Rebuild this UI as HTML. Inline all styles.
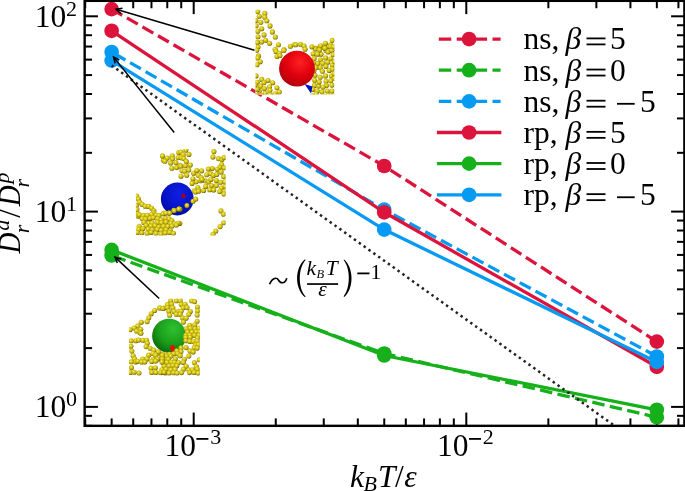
<!DOCTYPE html>
<html><head><meta charset="utf-8"><style>
html,body{margin:0;padding:0;background:#fff;}
svg{display:block;will-change:transform;font-family:"Liberation Serif",serif;}
</style></head><body>
<svg width="685" height="491" viewBox="0 0 685 491">
<defs><radialGradient id="bd" cx="0.42" cy="0.38" r="0.62"><stop offset="0" stop-color="#f6f07c"/><stop offset="0.3" stop-color="#e0d424"/><stop offset="0.72" stop-color="#bcaa08"/><stop offset="1" stop-color="#6a5e00"/></radialGradient><radialGradient id="sr" cx="0.58" cy="0.32" r="0.78"><stop offset="0" stop-color="#ff2020"/><stop offset="0.5" stop-color="#e0000e"/><stop offset="0.85" stop-color="#b8000a"/><stop offset="1" stop-color="#800008"/></radialGradient><radialGradient id="sb" cx="0.55" cy="0.35" r="0.75"><stop offset="0" stop-color="#1020e6"/><stop offset="0.6" stop-color="#0612c4"/><stop offset="1" stop-color="#000890"/></radialGradient><radialGradient id="sg" cx="0.62" cy="0.3" r="0.8"><stop offset="0" stop-color="#30c030"/><stop offset="0.55" stop-color="#1a9e1a"/><stop offset="1" stop-color="#0a5e0a"/></radialGradient><clipPath id="c1"><rect x="255.4" y="9.7" width="79" height="84.8"/></clipPath><clipPath id="c2"><rect x="135.9" y="149" width="89.7" height="86.4"/></clipPath><clipPath id="c3"><rect x="128.9" y="298.5" width="70.9" height="77.2"/></clipPath></defs>
<rect x="0" y="0" width="685" height="491" fill="#fff"/>
<line x1="85.22" y1="425.83" x2="85.22" y2="418.43" stroke="#000" stroke-width="2.0"/>
<line x1="85.22" y1="0.84" x2="85.22" y2="8.24" stroke="#000" stroke-width="2.0"/>
<line x1="111.64" y1="425.83" x2="111.64" y2="418.43" stroke="#000" stroke-width="2.0"/>
<line x1="111.64" y1="0.84" x2="111.64" y2="8.24" stroke="#000" stroke-width="2.0"/>
<line x1="133.22" y1="425.83" x2="133.22" y2="418.43" stroke="#000" stroke-width="2.0"/>
<line x1="133.22" y1="0.84" x2="133.22" y2="8.24" stroke="#000" stroke-width="2.0"/>
<line x1="151.47" y1="425.83" x2="151.47" y2="418.43" stroke="#000" stroke-width="2.0"/>
<line x1="151.47" y1="0.84" x2="151.47" y2="8.24" stroke="#000" stroke-width="2.0"/>
<line x1="167.28" y1="425.83" x2="167.28" y2="418.43" stroke="#000" stroke-width="2.0"/>
<line x1="167.28" y1="0.84" x2="167.28" y2="8.24" stroke="#000" stroke-width="2.0"/>
<line x1="181.23" y1="425.83" x2="181.23" y2="418.43" stroke="#000" stroke-width="2.0"/>
<line x1="181.23" y1="0.84" x2="181.23" y2="8.24" stroke="#000" stroke-width="2.0"/>
<line x1="193.70" y1="425.83" x2="193.70" y2="412.53" stroke="#000" stroke-width="2.0"/>
<line x1="193.70" y1="0.84" x2="193.70" y2="14.14" stroke="#000" stroke-width="2.0"/>
<line x1="275.76" y1="425.83" x2="275.76" y2="418.43" stroke="#000" stroke-width="2.0"/>
<line x1="275.76" y1="0.84" x2="275.76" y2="8.24" stroke="#000" stroke-width="2.0"/>
<line x1="323.76" y1="425.83" x2="323.76" y2="418.43" stroke="#000" stroke-width="2.0"/>
<line x1="323.76" y1="0.84" x2="323.76" y2="8.24" stroke="#000" stroke-width="2.0"/>
<line x1="357.82" y1="425.83" x2="357.82" y2="418.43" stroke="#000" stroke-width="2.0"/>
<line x1="357.82" y1="0.84" x2="357.82" y2="8.24" stroke="#000" stroke-width="2.0"/>
<line x1="384.24" y1="425.83" x2="384.24" y2="418.43" stroke="#000" stroke-width="2.0"/>
<line x1="384.24" y1="0.84" x2="384.24" y2="8.24" stroke="#000" stroke-width="2.0"/>
<line x1="405.82" y1="425.83" x2="405.82" y2="418.43" stroke="#000" stroke-width="2.0"/>
<line x1="405.82" y1="0.84" x2="405.82" y2="8.24" stroke="#000" stroke-width="2.0"/>
<line x1="424.07" y1="425.83" x2="424.07" y2="418.43" stroke="#000" stroke-width="2.0"/>
<line x1="424.07" y1="0.84" x2="424.07" y2="8.24" stroke="#000" stroke-width="2.0"/>
<line x1="439.88" y1="425.83" x2="439.88" y2="418.43" stroke="#000" stroke-width="2.0"/>
<line x1="439.88" y1="0.84" x2="439.88" y2="8.24" stroke="#000" stroke-width="2.0"/>
<line x1="453.83" y1="425.83" x2="453.83" y2="418.43" stroke="#000" stroke-width="2.0"/>
<line x1="453.83" y1="0.84" x2="453.83" y2="8.24" stroke="#000" stroke-width="2.0"/>
<line x1="466.30" y1="425.83" x2="466.30" y2="412.53" stroke="#000" stroke-width="2.0"/>
<line x1="466.30" y1="0.84" x2="466.30" y2="14.14" stroke="#000" stroke-width="2.0"/>
<line x1="548.36" y1="425.83" x2="548.36" y2="418.43" stroke="#000" stroke-width="2.0"/>
<line x1="548.36" y1="0.84" x2="548.36" y2="8.24" stroke="#000" stroke-width="2.0"/>
<line x1="596.36" y1="425.83" x2="596.36" y2="418.43" stroke="#000" stroke-width="2.0"/>
<line x1="596.36" y1="0.84" x2="596.36" y2="8.24" stroke="#000" stroke-width="2.0"/>
<line x1="630.42" y1="425.83" x2="630.42" y2="418.43" stroke="#000" stroke-width="2.0"/>
<line x1="630.42" y1="0.84" x2="630.42" y2="8.24" stroke="#000" stroke-width="2.0"/>
<line x1="656.84" y1="425.83" x2="656.84" y2="418.43" stroke="#000" stroke-width="2.0"/>
<line x1="656.84" y1="0.84" x2="656.84" y2="8.24" stroke="#000" stroke-width="2.0"/>
<line x1="678.42" y1="425.83" x2="678.42" y2="418.43" stroke="#000" stroke-width="2.0"/>
<line x1="678.42" y1="0.84" x2="678.42" y2="8.24" stroke="#000" stroke-width="2.0"/>
<line x1="84.66" y1="425.83" x2="92.06" y2="425.83" stroke="#000" stroke-width="2.0"/>
<line x1="684.38" y1="425.83" x2="676.98" y2="425.83" stroke="#000" stroke-width="2.0"/>
<line x1="84.66" y1="415.84" x2="92.06" y2="415.84" stroke="#000" stroke-width="2.0"/>
<line x1="684.38" y1="415.84" x2="676.98" y2="415.84" stroke="#000" stroke-width="2.0"/>
<line x1="84.66" y1="406.90" x2="97.96" y2="406.90" stroke="#000" stroke-width="2.0"/>
<line x1="684.38" y1="406.90" x2="671.08" y2="406.90" stroke="#000" stroke-width="2.0"/>
<line x1="84.66" y1="348.11" x2="92.06" y2="348.11" stroke="#000" stroke-width="2.0"/>
<line x1="684.38" y1="348.11" x2="676.98" y2="348.11" stroke="#000" stroke-width="2.0"/>
<line x1="84.66" y1="313.72" x2="92.06" y2="313.72" stroke="#000" stroke-width="2.0"/>
<line x1="684.38" y1="313.72" x2="676.98" y2="313.72" stroke="#000" stroke-width="2.0"/>
<line x1="84.66" y1="289.32" x2="92.06" y2="289.32" stroke="#000" stroke-width="2.0"/>
<line x1="684.38" y1="289.32" x2="676.98" y2="289.32" stroke="#000" stroke-width="2.0"/>
<line x1="84.66" y1="270.39" x2="92.06" y2="270.39" stroke="#000" stroke-width="2.0"/>
<line x1="684.38" y1="270.39" x2="676.98" y2="270.39" stroke="#000" stroke-width="2.0"/>
<line x1="84.66" y1="254.93" x2="92.06" y2="254.93" stroke="#000" stroke-width="2.0"/>
<line x1="684.38" y1="254.93" x2="676.98" y2="254.93" stroke="#000" stroke-width="2.0"/>
<line x1="84.66" y1="241.85" x2="92.06" y2="241.85" stroke="#000" stroke-width="2.0"/>
<line x1="684.38" y1="241.85" x2="676.98" y2="241.85" stroke="#000" stroke-width="2.0"/>
<line x1="84.66" y1="230.53" x2="92.06" y2="230.53" stroke="#000" stroke-width="2.0"/>
<line x1="684.38" y1="230.53" x2="676.98" y2="230.53" stroke="#000" stroke-width="2.0"/>
<line x1="84.66" y1="220.54" x2="92.06" y2="220.54" stroke="#000" stroke-width="2.0"/>
<line x1="684.38" y1="220.54" x2="676.98" y2="220.54" stroke="#000" stroke-width="2.0"/>
<line x1="84.66" y1="211.60" x2="97.96" y2="211.60" stroke="#000" stroke-width="2.0"/>
<line x1="684.38" y1="211.60" x2="671.08" y2="211.60" stroke="#000" stroke-width="2.0"/>
<line x1="84.66" y1="152.81" x2="92.06" y2="152.81" stroke="#000" stroke-width="2.0"/>
<line x1="684.38" y1="152.81" x2="676.98" y2="152.81" stroke="#000" stroke-width="2.0"/>
<line x1="84.66" y1="118.42" x2="92.06" y2="118.42" stroke="#000" stroke-width="2.0"/>
<line x1="684.38" y1="118.42" x2="676.98" y2="118.42" stroke="#000" stroke-width="2.0"/>
<line x1="84.66" y1="94.02" x2="92.06" y2="94.02" stroke="#000" stroke-width="2.0"/>
<line x1="684.38" y1="94.02" x2="676.98" y2="94.02" stroke="#000" stroke-width="2.0"/>
<line x1="84.66" y1="75.09" x2="92.06" y2="75.09" stroke="#000" stroke-width="2.0"/>
<line x1="684.38" y1="75.09" x2="676.98" y2="75.09" stroke="#000" stroke-width="2.0"/>
<line x1="84.66" y1="59.63" x2="92.06" y2="59.63" stroke="#000" stroke-width="2.0"/>
<line x1="684.38" y1="59.63" x2="676.98" y2="59.63" stroke="#000" stroke-width="2.0"/>
<line x1="84.66" y1="46.55" x2="92.06" y2="46.55" stroke="#000" stroke-width="2.0"/>
<line x1="684.38" y1="46.55" x2="676.98" y2="46.55" stroke="#000" stroke-width="2.0"/>
<line x1="84.66" y1="35.23" x2="92.06" y2="35.23" stroke="#000" stroke-width="2.0"/>
<line x1="684.38" y1="35.23" x2="676.98" y2="35.23" stroke="#000" stroke-width="2.0"/>
<line x1="84.66" y1="25.24" x2="92.06" y2="25.24" stroke="#000" stroke-width="2.0"/>
<line x1="684.38" y1="25.24" x2="676.98" y2="25.24" stroke="#000" stroke-width="2.0"/>
<line x1="84.66" y1="16.30" x2="97.96" y2="16.30" stroke="#000" stroke-width="2.0"/>
<line x1="684.38" y1="16.30" x2="671.08" y2="16.30" stroke="#000" stroke-width="2.0"/>
<polyline points="656.80,341.60 384.20,166.00 111.64,9.10" fill="none" stroke="#dc143c" stroke-width="3.3" stroke-dasharray="12.5 5.4"/>
<circle cx="111.64" cy="9.10" r="7.35" fill="#dc143c"/>
<circle cx="384.20" cy="166.00" r="7.35" fill="#dc143c"/>
<circle cx="656.80" cy="341.60" r="7.35" fill="#dc143c"/>
<polyline points="656.80,417.30 384.20,353.50 111.64,255.50" fill="none" stroke="#15b01a" stroke-width="3.3" stroke-dasharray="12.5 5.4"/>
<circle cx="111.64" cy="255.50" r="7.35" fill="#15b01a"/>
<circle cx="384.20" cy="353.50" r="7.35" fill="#15b01a"/>
<circle cx="656.80" cy="417.30" r="7.35" fill="#15b01a"/>
<polyline points="656.80,356.50 384.20,209.60 111.64,52.00" fill="none" stroke="#069af3" stroke-width="3.3" stroke-dasharray="12.5 5.4"/>
<circle cx="111.64" cy="52.00" r="7.35" fill="#069af3"/>
<circle cx="384.20" cy="209.60" r="7.35" fill="#069af3"/>
<circle cx="656.80" cy="356.50" r="7.35" fill="#069af3"/>
<polyline points="656.80,366.80 384.20,212.30 111.64,30.80" fill="none" stroke="#dc143c" stroke-width="3.3"/>
<circle cx="111.64" cy="30.80" r="7.35" fill="#dc143c"/>
<circle cx="384.20" cy="212.30" r="7.35" fill="#dc143c"/>
<circle cx="656.80" cy="366.80" r="7.35" fill="#dc143c"/>
<polyline points="656.80,409.80 384.20,355.50 111.64,249.90" fill="none" stroke="#15b01a" stroke-width="3.3"/>
<circle cx="111.64" cy="249.90" r="7.35" fill="#15b01a"/>
<circle cx="384.20" cy="355.50" r="7.35" fill="#15b01a"/>
<circle cx="656.80" cy="409.80" r="7.35" fill="#15b01a"/>
<polyline points="656.80,361.90 384.20,229.60 111.64,60.60" fill="none" stroke="#069af3" stroke-width="3.3"/>
<circle cx="111.64" cy="60.60" r="7.35" fill="#069af3"/>
<circle cx="384.20" cy="229.60" r="7.35" fill="#069af3"/>
<circle cx="656.80" cy="361.90" r="7.35" fill="#069af3"/>
<line x1="111.70" y1="65.50" x2="614.64" y2="425.83" stroke="#222" stroke-width="2.5" stroke-dasharray="2.45 3.515" stroke-dashoffset="0.245"/>
<rect x="255.4" y="9.7" width="79" height="84.8" fill="#fff"/><g clip-path="url(#c1)"><circle cx="257.7" cy="11.6" r="2.55" fill="url(#bd)"/><circle cx="259.3" cy="16.2" r="2.55" fill="url(#bd)"/><circle cx="264.8" cy="13.4" r="2.55" fill="url(#bd)"/><circle cx="264.7" cy="17.3" r="2.55" fill="url(#bd)"/><circle cx="266.8" cy="20.7" r="2.55" fill="url(#bd)"/><circle cx="260.8" cy="22.3" r="2.55" fill="url(#bd)"/><circle cx="270.0" cy="25.9" r="2.55" fill="url(#bd)"/><circle cx="261.7" cy="28.7" r="2.55" fill="url(#bd)"/><circle cx="257.7" cy="31.2" r="2.55" fill="url(#bd)"/><circle cx="272.4" cy="31.9" r="2.55" fill="url(#bd)"/><circle cx="264.0" cy="34.9" r="2.55" fill="url(#bd)"/><circle cx="257.9" cy="36.7" r="2.55" fill="url(#bd)"/><circle cx="275.3" cy="37.0" r="2.55" fill="url(#bd)"/><circle cx="265.6" cy="40.2" r="2.55" fill="url(#bd)"/><circle cx="261.4" cy="42.0" r="2.55" fill="url(#bd)"/><circle cx="257.3" cy="42.4" r="2.55" fill="url(#bd)"/><circle cx="269.6" cy="43.2" r="2.55" fill="url(#bd)"/><circle cx="278.5" cy="44.7" r="2.55" fill="url(#bd)"/><circle cx="258.0" cy="47.0" r="2.55" fill="url(#bd)"/><circle cx="275.1" cy="49.3" r="2.55" fill="url(#bd)"/><circle cx="284.0" cy="49.5" r="2.55" fill="url(#bd)"/><circle cx="290.4" cy="46.3" r="2.55" fill="url(#bd)"/><circle cx="294.7" cy="44.6" r="2.55" fill="url(#bd)"/><circle cx="295.7" cy="44.8" r="2.55" fill="url(#bd)"/><circle cx="300.4" cy="44.2" r="2.55" fill="url(#bd)"/><circle cx="304.0" cy="46.0" r="2.55" fill="url(#bd)"/><circle cx="305.1" cy="49.2" r="2.55" fill="url(#bd)"/><circle cx="315.7" cy="48.4" r="2.55" fill="url(#bd)"/><circle cx="319.9" cy="46.5" r="2.55" fill="url(#bd)"/><circle cx="323.9" cy="47.5" r="2.55" fill="url(#bd)"/><circle cx="328.2" cy="46.2" r="2.55" fill="url(#bd)"/><circle cx="330.6" cy="44.8" r="2.55" fill="url(#bd)"/><circle cx="332.3" cy="40.3" r="2.55" fill="url(#bd)"/><circle cx="332.0" cy="50.5" r="2.55" fill="url(#bd)"/><circle cx="325.8" cy="50.3" r="2.55" fill="url(#bd)"/><circle cx="256.7" cy="50.2" r="2.55" fill="url(#bd)"/><circle cx="258.5" cy="55.9" r="2.55" fill="url(#bd)"/><circle cx="257.7" cy="57.9" r="2.55" fill="url(#bd)"/><circle cx="260.2" cy="61.7" r="2.55" fill="url(#bd)"/><circle cx="257.0" cy="64.8" r="2.55" fill="url(#bd)"/><circle cx="276.0" cy="51.4" r="2.55" fill="url(#bd)"/><circle cx="279.3" cy="53.3" r="2.55" fill="url(#bd)"/><circle cx="283.8" cy="50.5" r="2.55" fill="url(#bd)"/><circle cx="277.1" cy="56.5" r="2.55" fill="url(#bd)"/><circle cx="279.9" cy="55.5" r="2.55" fill="url(#bd)"/><circle cx="256.0" cy="75.9" r="2.55" fill="url(#bd)"/><circle cx="257.2" cy="82.3" r="2.55" fill="url(#bd)"/><circle cx="267.9" cy="80.5" r="2.55" fill="url(#bd)"/><circle cx="272.7" cy="82.7" r="2.55" fill="url(#bd)"/><circle cx="260.6" cy="86.1" r="2.55" fill="url(#bd)"/><circle cx="264.4" cy="88.5" r="2.55" fill="url(#bd)"/><circle cx="269.6" cy="86.7" r="2.55" fill="url(#bd)"/><circle cx="269.9" cy="90.3" r="2.55" fill="url(#bd)"/><circle cx="276.9" cy="87.7" r="2.55" fill="url(#bd)"/><circle cx="259.3" cy="91.0" r="2.55" fill="url(#bd)"/><circle cx="257.3" cy="89.4" r="2.55" fill="url(#bd)"/><circle cx="279.3" cy="92.1" r="2.55" fill="url(#bd)"/><circle cx="265.1" cy="93.2" r="2.55" fill="url(#bd)"/><circle cx="315.2" cy="48.9" r="2.55" fill="url(#bd)"/><circle cx="320.6" cy="45.7" r="2.55" fill="url(#bd)"/><circle cx="324.8" cy="48.2" r="2.55" fill="url(#bd)"/><circle cx="330.2" cy="46.5" r="2.55" fill="url(#bd)"/><circle cx="313.2" cy="53.7" r="2.55" fill="url(#bd)"/><circle cx="321.0" cy="54.2" r="2.55" fill="url(#bd)"/><circle cx="328.1" cy="51.9" r="2.55" fill="url(#bd)"/><circle cx="331.9" cy="50.3" r="2.55" fill="url(#bd)"/><circle cx="314.2" cy="58.6" r="2.55" fill="url(#bd)"/><circle cx="320.4" cy="59.7" r="2.55" fill="url(#bd)"/><circle cx="325.6" cy="57.9" r="2.55" fill="url(#bd)"/><circle cx="330.8" cy="58.7" r="2.55" fill="url(#bd)"/><circle cx="317.6" cy="63.6" r="2.55" fill="url(#bd)"/><circle cx="322.7" cy="63.2" r="2.55" fill="url(#bd)"/><circle cx="327.7" cy="62.2" r="2.55" fill="url(#bd)"/><circle cx="332.4" cy="64.9" r="2.55" fill="url(#bd)"/><circle cx="320.2" cy="67.7" r="2.55" fill="url(#bd)"/><circle cx="325.9" cy="66.4" r="2.55" fill="url(#bd)"/><circle cx="322.4" cy="71.3" r="2.55" fill="url(#bd)"/><circle cx="329.2" cy="70.4" r="2.55" fill="url(#bd)"/><circle cx="332.5" cy="69.1" r="2.55" fill="url(#bd)"/><circle cx="325.5" cy="75.9" r="2.55" fill="url(#bd)"/><circle cx="331.4" cy="75.7" r="2.55" fill="url(#bd)"/><circle cx="314.9" cy="75.3" r="2.55" fill="url(#bd)"/><circle cx="314.6" cy="80.2" r="2.55" fill="url(#bd)"/><circle cx="326.0" cy="81.3" r="2.55" fill="url(#bd)"/><circle cx="330.7" cy="80.8" r="2.55" fill="url(#bd)"/><circle cx="314.4" cy="85.4" r="2.55" fill="url(#bd)"/><circle cx="318.6" cy="86.1" r="2.55" fill="url(#bd)"/><circle cx="326.4" cy="85.6" r="2.55" fill="url(#bd)"/><circle cx="331.9" cy="85.1" r="2.55" fill="url(#bd)"/><circle cx="312.8" cy="89.4" r="2.55" fill="url(#bd)"/><circle cx="317.2" cy="91.0" r="2.55" fill="url(#bd)"/><circle cx="321.9" cy="91.8" r="2.55" fill="url(#bd)"/><circle cx="327.4" cy="91.0" r="2.55" fill="url(#bd)"/><circle cx="332.0" cy="91.1" r="2.55" fill="url(#bd)"/><circle cx="316.1" cy="94.2" r="2.55" fill="url(#bd)"/><circle cx="313.9" cy="70.7" r="2.55" fill="url(#bd)"/><circle cx="320.2" cy="77.3" r="2.55" fill="url(#bd)"/><circle cx="319.2" cy="82.0" r="2.55" fill="url(#bd)"/><circle cx="315.8" cy="67.8" r="2.55" fill="url(#bd)"/><circle cx="328.1" cy="95.3" r="2.55" fill="url(#bd)"/><circle cx="323.3" cy="95.7" r="2.55" fill="url(#bd)"/><circle cx="333.1" cy="54.6" r="2.55" fill="url(#bd)"/><circle cx="333.8" cy="95.9" r="2.55" fill="url(#bd)"/><circle cx="325.4" cy="43.3" r="2.55" fill="url(#bd)"/><circle cx="323.0" cy="87.0" r="2.55" fill="url(#bd)"/><circle cx="333.5" cy="46.8" r="2.55" fill="url(#bd)"/><circle cx="319.4" cy="49.9" r="2.55" fill="url(#bd)"/><circle cx="311.9" cy="46.7" r="2.55" fill="url(#bd)"/><circle cx="334.5" cy="78.3" r="2.55" fill="url(#bd)"/><circle cx="317.5" cy="54.2" r="2.55" fill="url(#bd)"/><circle cx="334.2" cy="73.7" r="2.55" fill="url(#bd)"/><circle cx="312.4" cy="95.8" r="2.55" fill="url(#bd)"/><circle cx="313.2" cy="62.8" r="2.55" fill="url(#bd)"/><circle cx="334.4" cy="61.6" r="2.55" fill="url(#bd)"/><circle cx="256.1" cy="25.8" r="2.55" fill="url(#bd)"/><circle cx="255.8" cy="20.6" r="2.55" fill="url(#bd)"/><circle cx="261.7" cy="79.4" r="2.55" fill="url(#bd)"/><circle cx="274.9" cy="93.7" r="2.55" fill="url(#bd)"/><circle cx="270.0" cy="94.7" r="2.55" fill="url(#bd)"/><circle cx="256.6" cy="95.6" r="2.55" fill="url(#bd)"/><circle cx="261.6" cy="95.4" r="2.55" fill="url(#bd)"/><circle cx="255.4" cy="84.8" r="2.55" fill="url(#bd)"/><circle cx="264.0" cy="82.6" r="2.55" fill="url(#bd)"/><path d="M304.5,84 L312.5,86.5 L311,93.5 Z" fill="#0010c8"/><circle cx="297" cy="68.6" r="17.9" fill="url(#sr)"/></g><rect x="135.9" y="149" width="89.7" height="86.4" fill="#fff"/><g clip-path="url(#c2)"><circle cx="177.3" cy="199" r="16.4" fill="url(#sb)"/><circle cx="183.4" cy="195.9" r="2.1" fill="#b00010"/><circle cx="163.4" cy="160.3" r="2.55" fill="url(#bd)"/><circle cx="167.2" cy="158.1" r="2.55" fill="url(#bd)"/><circle cx="172.2" cy="155.8" r="2.55" fill="url(#bd)"/><circle cx="178.7" cy="152.6" r="2.55" fill="url(#bd)"/><circle cx="172.5" cy="158.8" r="2.55" fill="url(#bd)"/><circle cx="178.1" cy="157.6" r="2.55" fill="url(#bd)"/><circle cx="171.8" cy="168.3" r="2.55" fill="url(#bd)"/><circle cx="176.6" cy="167.6" r="2.55" fill="url(#bd)"/><circle cx="180.1" cy="165.4" r="2.55" fill="url(#bd)"/><circle cx="164.9" cy="161.3" r="2.55" fill="url(#bd)"/><circle cx="180.9" cy="152.0" r="2.55" fill="url(#bd)"/><circle cx="183.2" cy="154.7" r="2.55" fill="url(#bd)"/><circle cx="181.3" cy="157.8" r="2.55" fill="url(#bd)"/><circle cx="183.8" cy="158.6" r="2.55" fill="url(#bd)"/><circle cx="186.3" cy="161.4" r="2.55" fill="url(#bd)"/><circle cx="185.3" cy="165.7" r="2.55" fill="url(#bd)"/><circle cx="180.5" cy="166.2" r="2.55" fill="url(#bd)"/><circle cx="181.9" cy="170.6" r="2.55" fill="url(#bd)"/><circle cx="184.5" cy="171.3" r="2.55" fill="url(#bd)"/><circle cx="188.7" cy="169.9" r="2.55" fill="url(#bd)"/><circle cx="186.7" cy="175.2" r="2.55" fill="url(#bd)"/><circle cx="193.6" cy="173.2" r="2.55" fill="url(#bd)"/><circle cx="198.4" cy="175.3" r="2.55" fill="url(#bd)"/><circle cx="201.1" cy="177.6" r="2.55" fill="url(#bd)"/><circle cx="206.6" cy="174.7" r="2.55" fill="url(#bd)"/><circle cx="210.6" cy="173.6" r="2.55" fill="url(#bd)"/><circle cx="213.4" cy="175.4" r="2.55" fill="url(#bd)"/><circle cx="216.7" cy="174.4" r="2.55" fill="url(#bd)"/><circle cx="196.1" cy="181.8" r="2.55" fill="url(#bd)"/><circle cx="200.8" cy="180.7" r="2.55" fill="url(#bd)"/><circle cx="205.0" cy="180.8" r="2.55" fill="url(#bd)"/><circle cx="208.7" cy="181.9" r="2.55" fill="url(#bd)"/><circle cx="202.0" cy="179.5" r="2.55" fill="url(#bd)"/><circle cx="210.9" cy="179.5" r="2.55" fill="url(#bd)"/><circle cx="216.3" cy="180.5" r="2.55" fill="url(#bd)"/><circle cx="220.6" cy="182.3" r="2.55" fill="url(#bd)"/><circle cx="216.4" cy="185.6" r="2.55" fill="url(#bd)"/><circle cx="221.3" cy="188.0" r="2.55" fill="url(#bd)"/><circle cx="224.2" cy="191.5" r="2.55" fill="url(#bd)"/><circle cx="197.8" cy="187.5" r="2.55" fill="url(#bd)"/><circle cx="194.2" cy="190.8" r="2.55" fill="url(#bd)"/><circle cx="198.7" cy="190.3" r="2.55" fill="url(#bd)"/><circle cx="213.9" cy="151.6" r="2.55" fill="url(#bd)"/><circle cx="212.9" cy="156.9" r="2.55" fill="url(#bd)"/><circle cx="218.4" cy="158.6" r="2.55" fill="url(#bd)"/><circle cx="221.9" cy="159.6" r="2.55" fill="url(#bd)"/><circle cx="223.9" cy="157.6" r="2.55" fill="url(#bd)"/><circle cx="221.6" cy="164.6" r="2.55" fill="url(#bd)"/><circle cx="219.6" cy="167.4" r="2.55" fill="url(#bd)"/><circle cx="217.3" cy="169.2" r="2.55" fill="url(#bd)"/><circle cx="224.2" cy="167.8" r="2.55" fill="url(#bd)"/><circle cx="187.0" cy="205.6" r="2.55" fill="url(#bd)"/><circle cx="180.0" cy="209.2" r="2.55" fill="url(#bd)"/><circle cx="193.1" cy="201.3" r="2.55" fill="url(#bd)"/><circle cx="195.7" cy="199.0" r="2.55" fill="url(#bd)"/><circle cx="195.5" cy="192.0" r="2.55" fill="url(#bd)"/><circle cx="198.5" cy="191.2" r="2.55" fill="url(#bd)"/><circle cx="164.0" cy="213.3" r="2.55" fill="url(#bd)"/><circle cx="168.9" cy="213.1" r="2.55" fill="url(#bd)"/><circle cx="173.9" cy="210.2" r="2.55" fill="url(#bd)"/><circle cx="179.1" cy="209.1" r="2.55" fill="url(#bd)"/><circle cx="179.8" cy="223.4" r="2.55" fill="url(#bd)"/><circle cx="220.9" cy="210.9" r="2.55" fill="url(#bd)"/><circle cx="223.6" cy="214.2" r="2.55" fill="url(#bd)"/><circle cx="223.7" cy="222.7" r="2.55" fill="url(#bd)"/><circle cx="220.1" cy="226.6" r="2.55" fill="url(#bd)"/><circle cx="215.8" cy="231.0" r="2.55" fill="url(#bd)"/><circle cx="213.0" cy="234.3" r="2.55" fill="url(#bd)"/><circle cx="219.7" cy="191.5" r="2.55" fill="url(#bd)"/><circle cx="224.0" cy="194.0" r="2.55" fill="url(#bd)"/><circle cx="136.7" cy="196.0" r="2.55" fill="url(#bd)"/><circle cx="138.4" cy="198.9" r="2.55" fill="url(#bd)"/><circle cx="139.5" cy="202.3" r="2.55" fill="url(#bd)"/><circle cx="142.1" cy="204.3" r="2.55" fill="url(#bd)"/><circle cx="145.2" cy="206.2" r="2.55" fill="url(#bd)"/><circle cx="148.6" cy="206.4" r="2.55" fill="url(#bd)"/><circle cx="151.6" cy="208.2" r="2.55" fill="url(#bd)"/><circle cx="153.9" cy="210.8" r="2.55" fill="url(#bd)"/><circle cx="153.6" cy="212.8" r="2.55" fill="url(#bd)"/><circle cx="136.4" cy="205.5" r="2.55" fill="url(#bd)"/><circle cx="136.9" cy="209.6" r="2.55" fill="url(#bd)"/><circle cx="138.0" cy="213.9" r="2.55" fill="url(#bd)"/><circle cx="138.3" cy="216.2" r="2.55" fill="url(#bd)"/><circle cx="139.3" cy="214.8" r="2.55" fill="url(#bd)"/><circle cx="143.4" cy="215.4" r="2.55" fill="url(#bd)"/><circle cx="147.3" cy="215.2" r="2.55" fill="url(#bd)"/><circle cx="151.6" cy="214.3" r="2.55" fill="url(#bd)"/><circle cx="156.1" cy="215.1" r="2.55" fill="url(#bd)"/><circle cx="159.1" cy="215.6" r="2.55" fill="url(#bd)"/><circle cx="142.2" cy="218.5" r="2.55" fill="url(#bd)"/><circle cx="145.6" cy="219.1" r="2.55" fill="url(#bd)"/><circle cx="150.0" cy="218.4" r="2.55" fill="url(#bd)"/><circle cx="153.3" cy="217.7" r="2.55" fill="url(#bd)"/><circle cx="157.6" cy="218.7" r="2.55" fill="url(#bd)"/><circle cx="161.1" cy="219.9" r="2.55" fill="url(#bd)"/><circle cx="165.5" cy="218.2" r="2.55" fill="url(#bd)"/><circle cx="169.2" cy="218.9" r="2.55" fill="url(#bd)"/><circle cx="171.8" cy="220.6" r="2.55" fill="url(#bd)"/><circle cx="143.9" cy="222.4" r="2.55" fill="url(#bd)"/><circle cx="148.8" cy="223.4" r="2.55" fill="url(#bd)"/><circle cx="152.1" cy="222.9" r="2.55" fill="url(#bd)"/><circle cx="157.4" cy="222.4" r="2.55" fill="url(#bd)"/><circle cx="161.5" cy="222.7" r="2.55" fill="url(#bd)"/><circle cx="166.0" cy="222.1" r="2.55" fill="url(#bd)"/><circle cx="170.8" cy="223.3" r="2.55" fill="url(#bd)"/><circle cx="174.4" cy="223.7" r="2.55" fill="url(#bd)"/><circle cx="178.1" cy="223.3" r="2.55" fill="url(#bd)"/><circle cx="139.2" cy="226.3" r="2.55" fill="url(#bd)"/><circle cx="146.1" cy="225.5" r="2.55" fill="url(#bd)"/><circle cx="150.9" cy="226.0" r="2.55" fill="url(#bd)"/><circle cx="154.9" cy="225.6" r="2.55" fill="url(#bd)"/><circle cx="158.8" cy="226.9" r="2.55" fill="url(#bd)"/><circle cx="163.5" cy="226.3" r="2.55" fill="url(#bd)"/><circle cx="167.7" cy="226.5" r="2.55" fill="url(#bd)"/><circle cx="172.0" cy="226.1" r="2.55" fill="url(#bd)"/><circle cx="176.4" cy="225.0" r="2.55" fill="url(#bd)"/><circle cx="138.8" cy="229.4" r="2.55" fill="url(#bd)"/><circle cx="142.9" cy="228.5" r="2.55" fill="url(#bd)"/><circle cx="148.1" cy="229.1" r="2.55" fill="url(#bd)"/><circle cx="152.3" cy="229.8" r="2.55" fill="url(#bd)"/><circle cx="157.2" cy="229.4" r="2.55" fill="url(#bd)"/><circle cx="161.3" cy="230.4" r="2.55" fill="url(#bd)"/><circle cx="166.1" cy="229.8" r="2.55" fill="url(#bd)"/><circle cx="170.5" cy="230.8" r="2.55" fill="url(#bd)"/><circle cx="137.3" cy="232.5" r="2.55" fill="url(#bd)"/><circle cx="141.8" cy="232.8" r="2.55" fill="url(#bd)"/><circle cx="147.1" cy="233.4" r="2.55" fill="url(#bd)"/><circle cx="151.1" cy="232.4" r="2.55" fill="url(#bd)"/><circle cx="155.9" cy="233.5" r="2.55" fill="url(#bd)"/><circle cx="160.9" cy="233.9" r="2.55" fill="url(#bd)"/><circle cx="165.2" cy="232.9" r="2.55" fill="url(#bd)"/><circle cx="169.6" cy="232.4" r="2.55" fill="url(#bd)"/><circle cx="173.4" cy="233.3" r="2.55" fill="url(#bd)"/><circle cx="163.0" cy="213.7" r="2.55" fill="url(#bd)"/><circle cx="165.9" cy="213.1" r="2.55" fill="url(#bd)"/><circle cx="169.6" cy="213.0" r="2.55" fill="url(#bd)"/><circle cx="174.3" cy="210.7" r="2.55" fill="url(#bd)"/><circle cx="178.9" cy="209.0" r="2.55" fill="url(#bd)"/><circle cx="225.1" cy="186.2" r="2.55" fill="url(#bd)"/><circle cx="223.6" cy="176.6" r="2.55" fill="url(#bd)"/><circle cx="211.5" cy="185.5" r="2.55" fill="url(#bd)"/><circle cx="203.6" cy="190.5" r="2.55" fill="url(#bd)"/><circle cx="201.6" cy="170.7" r="2.55" fill="url(#bd)"/><circle cx="221.1" cy="171.9" r="2.55" fill="url(#bd)"/><circle cx="192.9" cy="178.7" r="2.55" fill="url(#bd)"/><circle cx="212.2" cy="168.5" r="2.55" fill="url(#bd)"/><circle cx="196.8" cy="170.5" r="2.55" fill="url(#bd)"/><circle cx="209.7" cy="189.7" r="2.55" fill="url(#bd)"/><circle cx="225.0" cy="181.8" r="2.55" fill="url(#bd)"/><circle cx="208.3" cy="169.0" r="2.55" fill="url(#bd)"/><circle cx="205.7" cy="186.4" r="2.55" fill="url(#bd)"/><circle cx="213.7" cy="189.9" r="2.55" fill="url(#bd)"/><circle cx="192.1" cy="183.4" r="2.55" fill="url(#bd)"/><circle cx="188.9" cy="154.4" r="2.55" fill="url(#bd)"/><circle cx="181.0" cy="176.2" r="2.55" fill="url(#bd)"/><circle cx="175.8" cy="162.6" r="2.55" fill="url(#bd)"/><circle cx="185.9" cy="150.1" r="2.55" fill="url(#bd)"/><circle cx="170.6" cy="162.9" r="2.55" fill="url(#bd)"/><circle cx="162.5" cy="155.9" r="2.55" fill="url(#bd)"/><circle cx="190.3" cy="165.0" r="2.55" fill="url(#bd)"/></g><rect x="128.9" y="298.5" width="70.9" height="77.2" fill="#fff"/><g clip-path="url(#c3)"><circle cx="169.1" cy="335.7" r="17" fill="url(#sg)"/><path d="M170.0,347.0 C170.3,344.3 174.6,344.3 174.8,347.3 C174.6,349.5 173.8,352 173.3,355.2 C172.2,352 170.3,349.5 170.0,347.0 Z" fill="#f00808"/><circle cx="159.7" cy="307.9" r="2.55" fill="url(#bd)"/><circle cx="163.9" cy="308.0" r="2.55" fill="url(#bd)"/><circle cx="154.7" cy="310.5" r="2.55" fill="url(#bd)"/><circle cx="151.2" cy="313.7" r="2.55" fill="url(#bd)"/><circle cx="148.8" cy="317.8" r="2.55" fill="url(#bd)"/><circle cx="147.1" cy="321.6" r="2.55" fill="url(#bd)"/><circle cx="141.3" cy="322.2" r="2.55" fill="url(#bd)"/><circle cx="137.8" cy="325.9" r="2.55" fill="url(#bd)"/><circle cx="134.0" cy="328.0" r="2.55" fill="url(#bd)"/><circle cx="130.0" cy="329.7" r="2.55" fill="url(#bd)"/><circle cx="140.7" cy="329.2" r="2.55" fill="url(#bd)"/><circle cx="136.6" cy="331.0" r="2.55" fill="url(#bd)"/><circle cx="139.8" cy="332.5" r="2.55" fill="url(#bd)"/><circle cx="140.9" cy="333.3" r="2.55" fill="url(#bd)"/><circle cx="170.6" cy="300.7" r="2.55" fill="url(#bd)"/><circle cx="176.3" cy="300.8" r="2.55" fill="url(#bd)"/><circle cx="180.2" cy="300.8" r="2.55" fill="url(#bd)"/><circle cx="191.6" cy="300.8" r="2.55" fill="url(#bd)"/><circle cx="194.6" cy="301.6" r="2.55" fill="url(#bd)"/><circle cx="167.4" cy="304.6" r="2.55" fill="url(#bd)"/><circle cx="171.6" cy="304.1" r="2.55" fill="url(#bd)"/><circle cx="181.3" cy="304.5" r="2.55" fill="url(#bd)"/><circle cx="185.0" cy="304.2" r="2.55" fill="url(#bd)"/><circle cx="197.5" cy="307.0" r="2.55" fill="url(#bd)"/><circle cx="162.9" cy="308.5" r="2.55" fill="url(#bd)"/><circle cx="167.4" cy="307.6" r="2.55" fill="url(#bd)"/><circle cx="172.8" cy="307.7" r="2.55" fill="url(#bd)"/><circle cx="183.2" cy="307.8" r="2.55" fill="url(#bd)"/><circle cx="187.0" cy="307.6" r="2.55" fill="url(#bd)"/><circle cx="168.8" cy="311.2" r="2.55" fill="url(#bd)"/><circle cx="174.0" cy="311.4" r="2.55" fill="url(#bd)"/><circle cx="178.4" cy="311.2" r="2.55" fill="url(#bd)"/><circle cx="181.1" cy="311.2" r="2.55" fill="url(#bd)"/><circle cx="190.3" cy="311.5" r="2.55" fill="url(#bd)"/><circle cx="197.5" cy="311.0" r="2.55" fill="url(#bd)"/><circle cx="169.6" cy="315.3" r="2.55" fill="url(#bd)"/><circle cx="176.3" cy="314.3" r="2.55" fill="url(#bd)"/><circle cx="180.1" cy="314.4" r="2.55" fill="url(#bd)"/><circle cx="188.8" cy="314.3" r="2.55" fill="url(#bd)"/><circle cx="197.2" cy="315.0" r="2.55" fill="url(#bd)"/><circle cx="182.6" cy="317.9" r="2.55" fill="url(#bd)"/><circle cx="186.1" cy="318.2" r="2.55" fill="url(#bd)"/><circle cx="183.4" cy="322.1" r="2.55" fill="url(#bd)"/><circle cx="197.2" cy="321.2" r="2.55" fill="url(#bd)"/><circle cx="189.7" cy="325.2" r="2.55" fill="url(#bd)"/><circle cx="194.7" cy="324.7" r="2.55" fill="url(#bd)"/><circle cx="186.3" cy="328.8" r="2.55" fill="url(#bd)"/><circle cx="190.4" cy="328.4" r="2.55" fill="url(#bd)"/><circle cx="194.9" cy="328.7" r="2.55" fill="url(#bd)"/><circle cx="198.9" cy="328.2" r="2.55" fill="url(#bd)"/><circle cx="187.6" cy="332.1" r="2.55" fill="url(#bd)"/><circle cx="192.0" cy="332.0" r="2.55" fill="url(#bd)"/><circle cx="196.4" cy="331.8" r="2.55" fill="url(#bd)"/><circle cx="199.3" cy="331.6" r="2.55" fill="url(#bd)"/><circle cx="185.9" cy="335.3" r="2.55" fill="url(#bd)"/><circle cx="189.7" cy="335.0" r="2.55" fill="url(#bd)"/><circle cx="194.4" cy="335.4" r="2.55" fill="url(#bd)"/><circle cx="198.7" cy="335.2" r="2.55" fill="url(#bd)"/><circle cx="185.7" cy="337.4" r="2.55" fill="url(#bd)"/><circle cx="190.2" cy="337.2" r="2.55" fill="url(#bd)"/><circle cx="197.6" cy="338.0" r="2.55" fill="url(#bd)"/><circle cx="185.8" cy="340.7" r="2.55" fill="url(#bd)"/><circle cx="189.7" cy="341.4" r="2.55" fill="url(#bd)"/><circle cx="193.5" cy="341.5" r="2.55" fill="url(#bd)"/><circle cx="197.2" cy="341.0" r="2.55" fill="url(#bd)"/><circle cx="195.5" cy="344.8" r="2.55" fill="url(#bd)"/><circle cx="198.3" cy="344.5" r="2.55" fill="url(#bd)"/><circle cx="181.0" cy="347.9" r="2.55" fill="url(#bd)"/><circle cx="186.1" cy="347.6" r="2.55" fill="url(#bd)"/><circle cx="194.3" cy="347.6" r="2.55" fill="url(#bd)"/><circle cx="197.2" cy="348.1" r="2.55" fill="url(#bd)"/><circle cx="176.8" cy="350.9" r="2.55" fill="url(#bd)"/><circle cx="181.0" cy="351.5" r="2.55" fill="url(#bd)"/><circle cx="190.0" cy="350.9" r="2.55" fill="url(#bd)"/><circle cx="193.1" cy="351.9" r="2.55" fill="url(#bd)"/><circle cx="160.6" cy="354.1" r="2.55" fill="url(#bd)"/><circle cx="165.1" cy="354.3" r="2.55" fill="url(#bd)"/><circle cx="169.5" cy="354.3" r="2.55" fill="url(#bd)"/><circle cx="173.7" cy="353.7" r="2.55" fill="url(#bd)"/><circle cx="177.6" cy="353.6" r="2.55" fill="url(#bd)"/><circle cx="162.9" cy="355.3" r="2.55" fill="url(#bd)"/><circle cx="166.4" cy="356.2" r="2.55" fill="url(#bd)"/><circle cx="170.8" cy="356.1" r="2.55" fill="url(#bd)"/><circle cx="180.1" cy="355.7" r="2.55" fill="url(#bd)"/><circle cx="188.8" cy="356.0" r="2.55" fill="url(#bd)"/><circle cx="160.1" cy="359.2" r="2.55" fill="url(#bd)"/><circle cx="164.5" cy="359.5" r="2.55" fill="url(#bd)"/><circle cx="168.4" cy="359.2" r="2.55" fill="url(#bd)"/><circle cx="175.3" cy="358.7" r="2.55" fill="url(#bd)"/><circle cx="184.3" cy="359.2" r="2.55" fill="url(#bd)"/><circle cx="162.9" cy="362.2" r="2.55" fill="url(#bd)"/><circle cx="166.9" cy="362.5" r="2.55" fill="url(#bd)"/><circle cx="171.3" cy="362.1" r="2.55" fill="url(#bd)"/><circle cx="174.4" cy="362.5" r="2.55" fill="url(#bd)"/><circle cx="178.4" cy="362.6" r="2.55" fill="url(#bd)"/><circle cx="183.3" cy="362.4" r="2.55" fill="url(#bd)"/><circle cx="194.4" cy="362.6" r="2.55" fill="url(#bd)"/><circle cx="164.0" cy="365.9" r="2.55" fill="url(#bd)"/><circle cx="169.1" cy="365.8" r="2.55" fill="url(#bd)"/><circle cx="172.8" cy="365.6" r="2.55" fill="url(#bd)"/><circle cx="176.8" cy="365.7" r="2.55" fill="url(#bd)"/><circle cx="186.1" cy="366.2" r="2.55" fill="url(#bd)"/><circle cx="196.3" cy="366.5" r="2.55" fill="url(#bd)"/><circle cx="161.8" cy="369.8" r="2.55" fill="url(#bd)"/><circle cx="166.0" cy="369.3" r="2.55" fill="url(#bd)"/><circle cx="170.7" cy="369.8" r="2.55" fill="url(#bd)"/><circle cx="175.0" cy="369.4" r="2.55" fill="url(#bd)"/><circle cx="183.4" cy="369.3" r="2.55" fill="url(#bd)"/><circle cx="188.7" cy="369.8" r="2.55" fill="url(#bd)"/><circle cx="192.3" cy="369.8" r="2.55" fill="url(#bd)"/><circle cx="197.3" cy="369.0" r="2.55" fill="url(#bd)"/><circle cx="161.1" cy="372.6" r="2.55" fill="url(#bd)"/><circle cx="165.2" cy="372.9" r="2.55" fill="url(#bd)"/><circle cx="169.0" cy="373.0" r="2.55" fill="url(#bd)"/><circle cx="173.5" cy="372.7" r="2.55" fill="url(#bd)"/><circle cx="177.0" cy="373.0" r="2.55" fill="url(#bd)"/><circle cx="181.6" cy="372.6" r="2.55" fill="url(#bd)"/><circle cx="189.5" cy="372.6" r="2.55" fill="url(#bd)"/><circle cx="194.1" cy="372.4" r="2.55" fill="url(#bd)"/><circle cx="198.1" cy="373.1" r="2.55" fill="url(#bd)"/><circle cx="131.3" cy="340.8" r="2.55" fill="url(#bd)"/><circle cx="135.9" cy="340.7" r="2.55" fill="url(#bd)"/><circle cx="138.7" cy="340.0" r="2.55" fill="url(#bd)"/><circle cx="142.9" cy="340.3" r="2.55" fill="url(#bd)"/><circle cx="146.5" cy="340.3" r="2.55" fill="url(#bd)"/><circle cx="147.3" cy="343.2" r="2.55" fill="url(#bd)"/><circle cx="130.9" cy="346.3" r="2.55" fill="url(#bd)"/><circle cx="146.1" cy="346.6" r="2.55" fill="url(#bd)"/><circle cx="131.8" cy="351.1" r="2.55" fill="url(#bd)"/><circle cx="150.2" cy="348.3" r="2.55" fill="url(#bd)"/><circle cx="153.8" cy="350.1" r="2.55" fill="url(#bd)"/><circle cx="158.5" cy="351.9" r="2.55" fill="url(#bd)"/><circle cx="162.4" cy="355.4" r="2.55" fill="url(#bd)"/><circle cx="133.1" cy="355.7" r="2.55" fill="url(#bd)"/><circle cx="148.7" cy="355.1" r="2.55" fill="url(#bd)"/><circle cx="153.0" cy="353.5" r="2.55" fill="url(#bd)"/><circle cx="155.6" cy="355.2" r="2.55" fill="url(#bd)"/><circle cx="134.5" cy="358.9" r="2.55" fill="url(#bd)"/><circle cx="142.6" cy="359.1" r="2.55" fill="url(#bd)"/><circle cx="147.0" cy="358.9" r="2.55" fill="url(#bd)"/><circle cx="153.1" cy="359.4" r="2.55" fill="url(#bd)"/><circle cx="157.5" cy="358.9" r="2.55" fill="url(#bd)"/><circle cx="162.3" cy="359.0" r="2.55" fill="url(#bd)"/><circle cx="131.3" cy="361.8" r="2.55" fill="url(#bd)"/><circle cx="135.8" cy="361.9" r="2.55" fill="url(#bd)"/><circle cx="137.7" cy="361.2" r="2.55" fill="url(#bd)"/><circle cx="141.6" cy="361.9" r="2.55" fill="url(#bd)"/><circle cx="144.8" cy="361.9" r="2.55" fill="url(#bd)"/><circle cx="151.7" cy="361.4" r="2.55" fill="url(#bd)"/><circle cx="155.6" cy="361.1" r="2.55" fill="url(#bd)"/><circle cx="162.0" cy="362.0" r="2.55" fill="url(#bd)"/><circle cx="131.5" cy="367.6" r="2.55" fill="url(#bd)"/><circle cx="151.0" cy="368.0" r="2.55" fill="url(#bd)"/><circle cx="155.4" cy="367.7" r="2.55" fill="url(#bd)"/><circle cx="130.2" cy="372.5" r="2.55" fill="url(#bd)"/><circle cx="134.2" cy="372.2" r="2.55" fill="url(#bd)"/><circle cx="139.0" cy="373.0" r="2.55" fill="url(#bd)"/><circle cx="151.7" cy="372.4" r="2.55" fill="url(#bd)"/><circle cx="155.8" cy="372.5" r="2.55" fill="url(#bd)"/><circle cx="160.5" cy="372.5" r="2.55" fill="url(#bd)"/><circle cx="164.1" cy="372.2" r="2.55" fill="url(#bd)"/><circle cx="199.3" cy="359.7" r="2.55" fill="url(#bd)"/></g><line x1="254.5" y1="50.2" x2="116.1" y2="9.3" stroke="#000" stroke-width="1.5"/><polyline points="120.9,13.6 116.1,9.3 122.5,8.3" fill="none" stroke="#000" stroke-width="1.5"/><line x1="174.2" y1="132.5" x2="113.6" y2="57.1" stroke="#000" stroke-width="1.5"/><polyline points="115.1,63.4 113.6,57.1 119.4,59.9" fill="none" stroke="#000" stroke-width="1.5"/><line x1="159.2" y1="298.5" x2="115.0" y2="257.1" stroke="#000" stroke-width="1.5"/><polyline points="117.3,263.1 115.0,257.1 121.1,259.0" fill="none" stroke="#000" stroke-width="1.5"/>
<line x1="436.9" y1="39.05" x2="500.6" y2="39.05" stroke="#dc143c" stroke-width="3.3" stroke-dasharray="12.5 5.4" stroke-dashoffset="-1.9"/>
<circle cx="469.1" cy="39.05" r="7.35" fill="#dc143c"/>
<line x1="436.9" y1="70.20" x2="500.6" y2="70.20" stroke="#15b01a" stroke-width="3.3" stroke-dasharray="12.5 5.4" stroke-dashoffset="-1.9"/>
<circle cx="469.1" cy="70.20" r="7.35" fill="#15b01a"/>
<line x1="436.9" y1="101.35" x2="500.6" y2="101.35" stroke="#069af3" stroke-width="3.3" stroke-dasharray="12.5 5.4" stroke-dashoffset="-1.9"/>
<circle cx="469.1" cy="101.35" r="7.35" fill="#069af3"/>
<line x1="436.9" y1="132.50" x2="501.4" y2="132.50" stroke="#dc143c" stroke-width="3.3"/>
<circle cx="469.1" cy="132.50" r="7.35" fill="#dc143c"/>
<line x1="436.9" y1="163.65" x2="501.4" y2="163.65" stroke="#15b01a" stroke-width="3.3"/>
<circle cx="469.1" cy="163.65" r="7.35" fill="#15b01a"/>
<line x1="436.9" y1="194.80" x2="501.4" y2="194.80" stroke="#069af3" stroke-width="3.3"/>
<circle cx="469.1" cy="194.80" r="7.35" fill="#069af3"/>
<text x="523.5" y="49.40" font-size="31.5">ns,</text>
<text x="565.6" y="49.40" font-size="31.5" font-style="italic">β</text>
<rect x="586.50" y="37.50" width="19.00" height="1.8" fill="#000"/>
<rect x="586.50" y="43.50" width="19.00" height="1.8" fill="#000"/>
<text x="610" y="49.40" font-size="31.5">5</text>
<text x="523.5" y="80.55" font-size="31.5">ns,</text>
<text x="565.6" y="80.55" font-size="31.5" font-style="italic">β</text>
<rect x="586.50" y="68.65" width="19.00" height="1.8" fill="#000"/>
<rect x="586.50" y="74.65" width="19.00" height="1.8" fill="#000"/>
<text x="610" y="80.55" font-size="31.5">0</text>
<text x="523.5" y="111.70" font-size="31.5">ns,</text>
<text x="565.6" y="111.70" font-size="31.5" font-style="italic">β</text>
<rect x="586.50" y="99.80" width="19.00" height="1.8" fill="#000"/>
<rect x="586.50" y="105.80" width="19.00" height="1.8" fill="#000"/>
<rect x="617.00" y="102.90" width="17.70" height="1.8" fill="#000"/>
<text x="640" y="111.70" font-size="31.5">5</text>
<text x="523.5" y="142.85" font-size="31.5">rp,</text>
<text x="565.6" y="142.85" font-size="31.5" font-style="italic">β</text>
<rect x="586.50" y="130.95" width="19.00" height="1.8" fill="#000"/>
<rect x="586.50" y="136.95" width="19.00" height="1.8" fill="#000"/>
<text x="610" y="142.85" font-size="31.5">5</text>
<text x="523.5" y="174.00" font-size="31.5">rp,</text>
<text x="565.6" y="174.00" font-size="31.5" font-style="italic">β</text>
<rect x="586.50" y="162.10" width="19.00" height="1.8" fill="#000"/>
<rect x="586.50" y="168.10" width="19.00" height="1.8" fill="#000"/>
<text x="610" y="174.00" font-size="31.5">0</text>
<text x="523.5" y="205.15" font-size="31.5">rp,</text>
<text x="565.6" y="205.15" font-size="31.5" font-style="italic">β</text>
<rect x="586.50" y="193.25" width="19.00" height="1.8" fill="#000"/>
<rect x="586.50" y="199.25" width="19.00" height="1.8" fill="#000"/>
<rect x="617.00" y="196.35" width="17.70" height="1.8" fill="#000"/>
<text x="640" y="205.15" font-size="31.5">5</text>
<rect x="84.66" y="0.84" width="599.72" height="424.99" fill="none" stroke="#000" stroke-width="2.4"/>
<text x="34.8" y="26.80" font-size="31.5">10</text>
<text x="66.0" y="15.60" font-size="22.0">2</text>
<text x="34.8" y="222.10" font-size="31.5">10</text>
<text x="66.0" y="210.90" font-size="22.0">1</text>
<text x="34.8" y="417.40" font-size="31.5">10</text>
<text x="66.0" y="406.20" font-size="22.0">0</text>
<text x="164.40" y="455.7" font-size="31.5">10</text>
<rect x="196.40" y="438.00" width="12.00" height="1.8" fill="#000"/>
<text x="210.20" y="444.3" font-size="22.0">3</text>
<text x="437.00" y="455.7" font-size="31.5">10</text>
<rect x="469.00" y="438.00" width="12.00" height="1.8" fill="#000"/>
<text x="482.80" y="444.3" font-size="22.0">2</text>
<text x="350" y="486.5" font-size="31.5" font-style="italic">k</text>
<text x="363.6" y="491.3" font-size="22.0" font-style="italic">B</text>
<text x="378" y="486.5" font-size="31.5" font-style="italic">T</text>
<text x="395" y="486.5" font-size="31.5">/</text>
<text x="404.3" y="486.5" font-size="31.5" font-style="italic">ε</text>
<g transform="translate(20.3,0) rotate(-90)"><text x="-253.45" y="0" font-size="31.5" font-style="italic" textLength="21" lengthAdjust="spacingAndGlyphs">D</text><text x="-230.66" y="-10.9" font-size="22.0" font-style="italic">a</text><text x="-233.3" y="8.4" font-size="22.0" font-style="italic">r</text><text x="-217.7" y="0" font-size="31.5">/</text><text x="-206.35" y="0" font-size="31.5" font-style="italic" textLength="21" lengthAdjust="spacingAndGlyphs">D</text><text x="-183.4" y="-10.9" font-size="22.0" font-style="italic">p</text><text x="-187.4" y="8.4" font-size="22.0" font-style="italic">r</text></g>
<path d="M269.6,284.3 C272.5,277.0 277.0,277.5 278.3,279.8 C280.0,283.0 284.5,285.0 286.8,278.2" fill="none" stroke="#000" stroke-width="1.7"/>
<path d="M305.0,259.3 C294.47,268 294.47,288.5 305.0,297.2 L305.6,296.5 C297.87,288 297.87,268.5 305.6,260.0 Z" fill="#000"/>
<path d="M344.2,259.4 C354.0,268.1 354.0,288.6 344.2,297.1 L343.6,296.4 C350.6,288 350.6,268.5 343.6,260.1 Z" fill="#000"/>
<text x="306.5" y="274.8" font-size="21.5" font-style="italic">k</text>
<text x="316.4" y="277.5" font-size="12.5" font-style="italic">B</text>
<text x="325.8" y="274.8" font-size="21.5" font-style="italic">T</text>
<rect x="307.1" y="283.2" width="31" height="1.7" fill="#000"/>
<text x="318.3" y="295.8" font-size="21.5" font-style="italic">ε</text>
<rect x="357.30" y="272.50" width="12.20" height="1.8" fill="#000"/>
<text x="370.4" y="278.7" font-size="21.5">1</text>
</svg>
</body></html>
